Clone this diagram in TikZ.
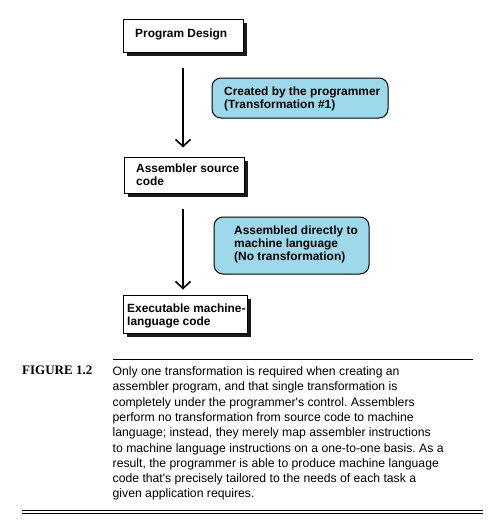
\documentclass[tikz,border=0pt]{standalone}
\usepackage{fontspec}
\setmainfont{Liberation Sans}
\newfontfamily\capserif{Liberation Serif}
\usetikzlibrary{arrows.meta,shadows}
\definecolor{bubblefill}{HTML}{9DD9EA}
\definecolor{shadowc}{HTML}{1A1A1A}
\frenchspacing
\begin{document}
\begin{tikzpicture}[x=1pt,y=-1pt,
  stepbox/.style={draw=black,line width=1pt,fill=white,inner sep=0pt,
    drop shadow={shadow xshift=4pt,shadow yshift=-4pt,fill=shadowc,opacity=1}},
  boxtext/.style={anchor=base west,inner sep=0pt,font=\fontsize{11.9}{13}\selectfont\bfseries},
  bubble/.style={draw=black,line width=1pt,fill=bubblefill,rounded corners=9pt,inner sep=0pt},
  flow/.style={line width=1.8pt,-{Straight Barb[length=7pt,width=15pt,line width=1.6pt]}}]
\useasboundingbox (0,0) rectangle (499,530);
% boxes
\node[stepbox,minimum width=120pt,minimum height=33pt] (b1) at (183,35.5) {};
\node[stepbox,minimum width=120pt,minimum height=36pt] (b2) at (184,175) {};
\node[stepbox,minimum width=124pt,minimum height=38pt] (b3) at (185,314) {};
\node[boxtext] (t1) at (135,37) {Program Design};
\node[boxtext] (t2) at (136,172) {\begin{tabular}[t]{@{}l@{}}Assembler source\\code\end{tabular}};
\node[boxtext] (t3) at (127,312) {\begin{tabular}[t]{@{}l@{}}Executable machine-\\language code\end{tabular}};
% bubbles
\node[bubble,minimum width=176pt,minimum height=40pt] (u1) at (300,98) {};
\node[bubble,minimum width=155pt,minimum height=57pt] (u2) at (291.5,245.5) {};
\node[boxtext] (c1) at (224,95) {\begin{tabular}[t]{@{}l@{}}Created by the programmer\\(Transformation \#1)\end{tabular}};
\node[boxtext] (c2) at (234,234) {\begin{tabular}[t]{@{}l@{}}Assembled directly to\\machine language\\(No transformation)\end{tabular}};
% arrows
\draw[flow,shorten <=15pt,shorten >=9pt] (b1.south) -- (b1.south |- b2.north);
\draw[flow,shorten <=15pt,shorten >=5pt] (b1.south |- b2.south) -- (b1.south |- b3.north);
% caption
\coordinate (r1) at (112.5,359);
\coordinate (r2) at (473,359);
\draw[line width=1pt] (r1) -- (r2);
\node[anchor=base west,inner sep=0pt,font=\capserif\fontsize{13}{15}\selectfont\bfseries] (fig) at (22,374) {FIGURE 1.2};
\node[anchor=base west,inner sep=0pt,font=\fontsize{12.2}{15.3}\selectfont] (cap) at (112.5,375.5) {\parbox[t]{380pt}{\raggedright Only one transformation is required when creating an\\assembler program, and that single transformation is\\completely under the programmer\textquotesingle s control. Assemblers\\perform no transformation from source code to machine\\language; instead, they merely map assembler instructions\\to machine language instructions on a one-to-one basis. As a\\result, the programmer is able to produce machine language\\code that\textquotesingle s precisely tailored to the needs of each task a\\given application requires.}};
\coordinate (d1) at (22,510.5);
\coordinate (d2) at (483,510.5);
\coordinate (d3) at (22,513);
\coordinate (d4) at (483,513);
\draw[line width=1pt] (d1) -- (d2);
\draw[line width=1pt] (d3) -- (d4);
\end{tikzpicture}
\end{document}
